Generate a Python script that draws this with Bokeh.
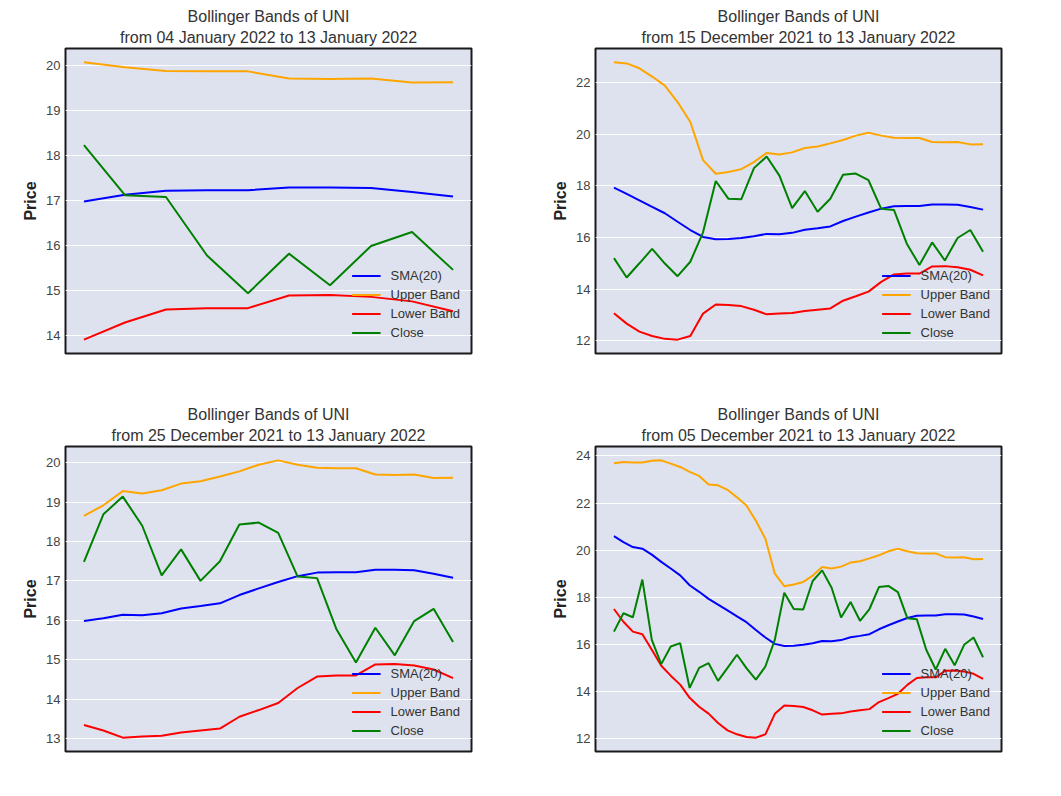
import pandas as pd
from bokeh.plotting import figure
from bokeh.layouts import column, row
from bokeh.models import Range1d, SingleIntervalTicker, Title
from bokeh.embed import file_html
from bokeh.resources import INLINE

# Daily data 05 Dec 2021 .. 13 Jan 2022 (40 days)
dates = pd.date_range("2021-12-05", "2022-01-13", freq="D")

close = [16.54, 17.32, 17.15, 18.75, 16.19, 15.16, 15.91, 16.05, 14.15, 15.00,
         15.20, 14.45, 15.00, 15.56, 14.99, 14.50, 15.06, 16.20, 18.19, 17.50,
         17.48, 18.69, 19.14, 18.40, 17.14, 17.80, 17.00, 17.50, 18.43, 18.48,
         18.22, 17.11, 17.07, 15.77, 14.93, 15.81, 15.11, 15.98, 16.29, 15.45]

sma20 = [20.59, 20.34, 20.13, 20.06, 19.81, 19.50, 19.22, 18.93, 18.51, 18.23,
         17.93, 17.69, 17.44, 17.19, 16.94, 16.61, 16.29, 16.02, 15.93, 15.94,
         15.98, 16.05, 16.14, 16.13, 16.18, 16.30, 16.36, 16.43, 16.64, 16.81,
         16.97, 17.12, 17.21, 17.22, 17.22, 17.28, 17.28, 17.27, 17.18, 17.08]

upper = [23.69, 23.74, 23.72, 23.72, 23.79, 23.81, 23.67, 23.53, 23.32, 23.15,
         22.79, 22.75, 22.56, 22.24, 21.89, 21.25, 20.48, 19.00, 18.47, 18.54,
         18.65, 18.92, 19.28, 19.22, 19.30, 19.47, 19.53, 19.65, 19.78, 19.95,
         20.06, 19.95, 19.87, 19.86, 19.86, 19.70, 19.69, 19.70, 19.61, 19.62]

lower = [17.50, 16.96, 16.54, 16.43, 15.77, 15.09, 14.67, 14.29, 13.73, 13.35,
         13.06, 12.66, 12.35, 12.18, 12.07, 12.04, 12.18, 13.05, 13.40, 13.38,
         13.34, 13.20, 13.02, 13.05, 13.07, 13.15, 13.20, 13.25, 13.55, 13.72,
         13.90, 14.28, 14.57, 14.60, 14.60, 14.88, 14.89, 14.85, 14.75, 14.53]

TITLE = "Bollinger Bands of UNI"
# (title date text, number of trailing days, y tick interval)
panels = [
    ("from 04 January 2022 to 13 January 2022", 10, 1),
    ("from 15 December 2021 to 13 January 2022", 30, 2),
    ("from 25 December 2021 to 13 January 2022", 20, 1),
    ("from 05 December 2021 to 13 January 2022", 40, 2),
]

FONT = "Liberation Sans"
BG = "#dde2ee"


def style_title(t, standoff):
    t.align = "center"
    t.text_font = FONT
    t.text_font_size = "16px"
    t.text_font_style = "normal"
    t.text_color = "#333333"
    t.text_line_height = 1.0
    t.standoff = standoff
    t.offset = 0


def make_panel(subtitle, n, interval):
    d = dates[-n:]
    series = [
        (sma20[-n:], "blue", "SMA(20)"),
        (upper[-n:], "orange", "Upper Band"),
        (lower[-n:], "red", "Lower Band"),
        (close[-n:], "green", "Close"),
    ]
    allv = sma20[-n:] + upper[-n:] + lower[-n:] + close[-n:]
    lo, hi = min(allv), max(allv)
    ypad = (hi - lo) * 0.05
    xs0, xs1 = d[0], d[-1]
    xpad = (xs1 - xs0) * 0.05

    p = figure(frame_width=406, frame_height=305,
               min_border_left=65, min_border_right=59,
               min_border_top=48, min_border_bottom=45,
               x_axis_type="datetime",
               x_range=Range1d(xs0 - xpad, xs1 + xpad),
               y_range=Range1d(lo - ypad, hi + ypad),
               toolbar_location=None, output_backend="svg",
               background_fill_color=BG, border_fill_color="white")
    p.title.text = TITLE
    style_title(p.title, 0)
    t2 = Title(text=subtitle)
    style_title(t2, 5)
    p.add_layout(t2, "above")

    for vals, col, lab in series:
        p.line(list(d), vals, line_color=col, line_width=2, legend_label=lab)

    p.xaxis.visible = False
    p.xgrid.grid_line_color = None
    p.ygrid.grid_line_color = "white"
    p.ygrid.grid_line_width = 1

    p.yaxis.ticker = SingleIntervalTicker(interval=interval, num_minor_ticks=0)
    p.yaxis.axis_line_color = None
    p.yaxis.major_tick_line_color = None
    p.yaxis.minor_tick_line_color = None
    p.yaxis.major_tick_out = 0
    p.yaxis.major_tick_in = 0
    p.yaxis.major_label_text_font = FONT
    p.yaxis.major_label_text_font_size = "13px"
    p.yaxis.major_label_text_color = "#444444"
    p.yaxis.major_label_standoff = 5
    p.yaxis.axis_label = "Price"
    p.yaxis.axis_label_text_font = FONT
    p.yaxis.axis_label_text_font_size = "16px"
    p.yaxis.axis_label_text_font_style = "bold"
    p.yaxis.axis_label_text_color = "#222222"
    p.yaxis.axis_label_standoff = 4

    p.outline_line_color = "#1a1a1a"
    p.outline_line_width = 2

    lg = p.legend[0]
    lg.location = "bottom_right"
    lg.background_fill_alpha = 0
    lg.border_line_alpha = 0
    lg.label_text_font = FONT
    lg.label_text_font_size = "13px"
    lg.label_text_color = "#333333"
    lg.glyph_width = 29
    lg.glyph_height = 19
    lg.label_height = 19
    lg.label_standoff = 10
    lg.spacing = 0
    lg.padding = 8
    lg.margin = 3
    return p


figs = [make_panel(*pp) for pp in panels]
layout = column(row(figs[0], figs[1]), row(figs[2], figs[3]))

open("out.html", "w").write(file_html(layout, INLINE))
